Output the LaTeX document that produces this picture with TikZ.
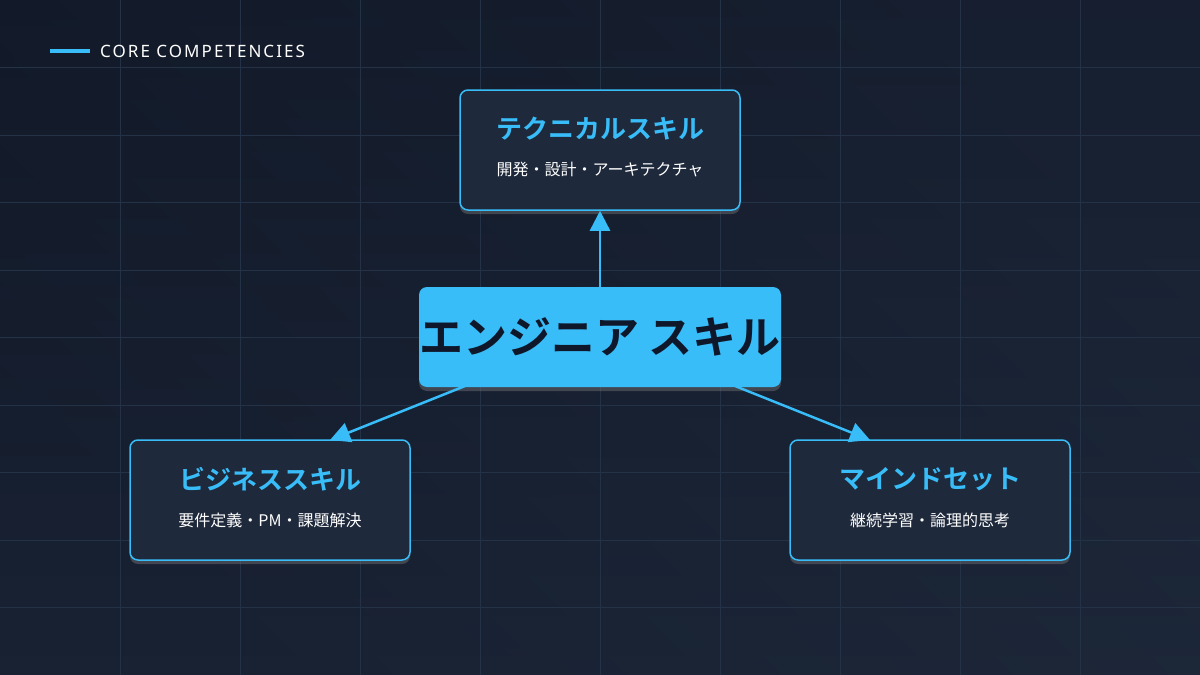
\documentclass[tikz,border=0pt]{standalone}
\usepackage{fontspec}
\setmainfont{Noto Sans}
\newfontfamily\cjk{Noto Sans CJK JP}
\newfontfamily\cjkb{Noto Sans CJK JP Bold}
\newfontfamily\hdr[LetterSpace=12]{Noto Sans}
\usetikzlibrary{arrows.meta,shadows}
\definecolor{bgA}{HTML}{111827}
\definecolor{bgB}{HTML}{1E293B}
\definecolor{acc}{HTML}{38BDF8}
\definecolor{boxf}{HTML}{1E293B}
\definecolor{dark}{HTML}{0F172A}
\definecolor{gridc}{HTML}{243247}
\begin{document}
\begin{tikzpicture}[x=1pt,y=-1pt,
 sub/.style={draw=acc,line width=1.5pt,fill=boxf,rounded corners=8pt,minimum width=280pt,minimum height=120pt,drop shadow={opacity=0.4,shadow xshift=0pt,shadow yshift=-4pt}},
 ttl/.style={text=acc,font=\cjkb\fontsize{26}{30}\selectfont},
 st/.style={text=white,font=\cjk\fontsize{16}{20}\selectfont},
 arr/.style={acc,line width=2.5pt,-{Triangle[length=20pt,width=20pt]}}]
\path[use as bounding box,left color=bgA,right color=bgB,shading angle=135] (0,0) rectangle (1200,675);
\shade[top color=bgA,bottom color=bgB,opacity=0.6] (0,0) rectangle (1200,675);
\foreach \i in {1,...,9} \draw[gridc,line width=0.8pt] (\i*120,0)--(\i*120,675);
\foreach \j in {1,...,9} \draw[gridc,line width=0.8pt] (0,\j*67.5)--(1200,\j*67.5);
\draw[acc,line width=4pt] (50,51)--(90,51);
\node[anchor=west,text=white,font=\hdr\fontsize{17}{20}\selectfont\bfseries,inner sep=0] (h) at (100,51) {CORE COMPETENCIES};
\node[sub] (t) at (600,150) {};
\node[ttl] (tt) at (600,129) {テクニカルスキル};
\node[st] (ts) at (600,170) {開発・設計・アーキテクチャ};
\node[sub] (l) at (270,500) {};
\node[ttl] (lt) at (270,479) {ビジネススキル};
\node[st] (ls) at (270,520) {要件定義・PM・課題解決};
\node[sub] (r) at (930,500) {};
\node[ttl] (rt) at (930,479) {マインドセット};
\node[st] (rs) at (930,520) {継続学習・論理的思考};
\node[fill=acc,rounded corners=8pt,minimum width=360pt,minimum height=100pt,text=dark,font=\cjkb\fontsize{44}{50}\selectfont,inner sep=0,drop shadow={opacity=0.4,shadow xshift=0pt,shadow yshift=-4pt}] (c) at (600,337) {エンジニア スキル};
\coordinate (c1) at (465,386); \coordinate (c2) at (735,386);
\draw[arr] (c.north) -- (t.south);
\draw[arr] (c1) -- (330,440);
\draw[arr] (c2) -- (870,440);
\end{tikzpicture}
\end{document}
